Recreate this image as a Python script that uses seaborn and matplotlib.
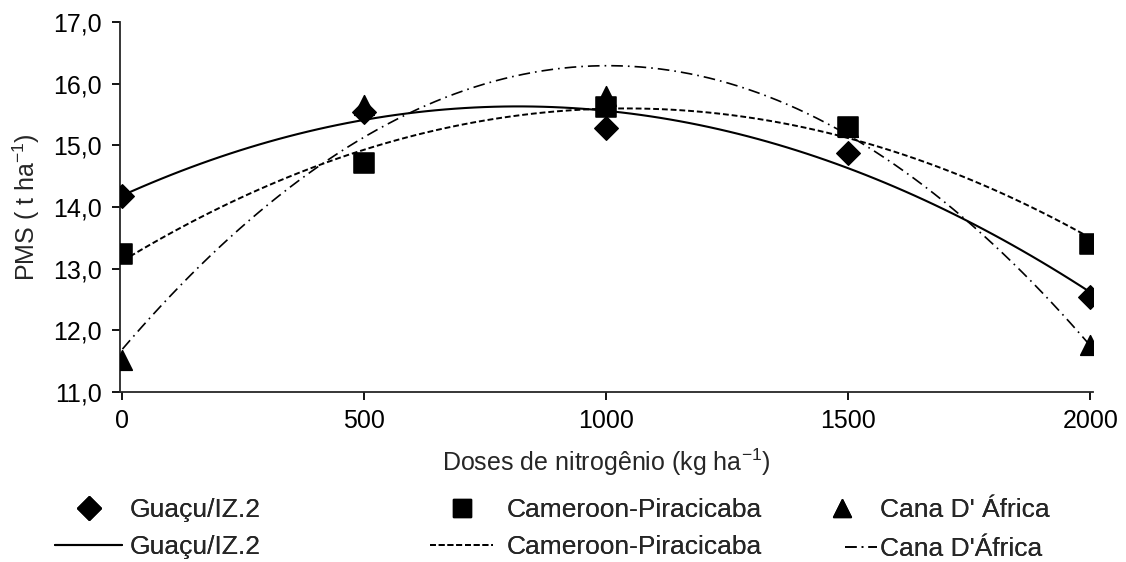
import numpy as np
import pandas as pd
import matplotlib
matplotlib.use("Agg")
import matplotlib.pyplot as plt
import seaborn as sns
from matplotlib.ticker import FuncFormatter
from matplotlib.lines import Line2D

doses = [0, 500, 1000, 1500, 2000]
guacu = [14.17, 15.54, 15.28, 14.87, 12.54]
cameroon = [13.23, 14.71, 15.62, 15.30, 13.40]
cana = [11.52, 15.65, 15.80, 15.30, 11.76]

sns.set_style("ticks")
plt.rcParams['font.family'] = ['Liberation Sans', 'DejaVu Sans']
plt.rcParams['mathtext.fontset'] = 'custom'
plt.rcParams['mathtext.rm'] = 'Liberation Sans'
plt.rcParams['mathtext.it'] = 'Liberation Sans'

fs = 18
lfs = 19
W, H = 1126, 562
fig = plt.figure(figsize=(W / 100, H / 100), dpi=100)
ax = fig.add_axes([0.1066, 0.3025, 0.864, 0.6585])

# curvas ajustadas (regressao quadratica)
sns.regplot(x=doses, y=guacu, order=2, ci=None, scatter=False, ax=ax,
            line_kws=dict(color='black', lw=1.5, ls='-'))
sns.regplot(x=doses, y=cameroon, order=2, ci=None, scatter=False, ax=ax,
            line_kws=dict(color='black', lw=1.4, ls=(0, (3, 1.5))))
sns.regplot(x=doses, y=cana, order=2, ci=None, scatter=False, ax=ax,
            line_kws=dict(color='black', lw=1.2, ls=(0, (7, 3, 1, 3))))
lines = ax.get_lines()

# pontos observados
sns.scatterplot(x=doses, y=cana, marker='^', s=200, color='black', edgecolor='black',
                ax=ax, zorder=3, legend=False)
sns.scatterplot(x=doses, y=cameroon, marker='s', s=205, color='black', edgecolor='black',
                ax=ax, zorder=4, legend=False)
sns.scatterplot(x=doses, y=guacu, marker='D', s=145, color='black', edgecolor='black',
                ax=ax, zorder=5, legend=False)

ax.set_xlim(-5, 2005)
ax.set_ylim(11, 17)
ax.set_xticks(doses)
ax.set_yticks(np.arange(11, 17.1, 1))
ax.yaxis.set_major_formatter(FuncFormatter(lambda v, p: f"{v:.1f}".replace('.', ',')))
ax.tick_params(labelsize=fs, length=6, width=1.3, colors='black')
ax.tick_params(axis='y', pad=7)
ax.tick_params(axis='x', pad=6)
ax.spines['left'].set_linewidth(1.3)
ax.spines['bottom'].set_linewidth(1.3)
sns.despine(ax=ax)
ax.set_xlabel(r'Doses de nitrogênio (kg ha$^{\mathregular{-1}}$)', fontsize=fs, labelpad=10)
ax.set_ylabel(r'PMS ( t ha$^{\mathregular{-1}}$)', fontsize=fs, labelpad=8)

mk = lambda m, s: Line2D([], [], marker=m, ls='none', color='black', markersize=s)


def leg(handles, labels, x, y, hl, pad):
    l = fig.legend(handles, labels, loc='upper left', bbox_to_anchor=(x / W, 1 - y / H),
                   frameon=False, fontsize=lfs, handlelength=hl, handletextpad=pad,
                   labelspacing=0.5, borderpad=0, borderaxespad=0)
    fig.add_artist(l)


leg([mk('D', 12), lines[0]], ['Guaçu/IZ.2', 'Guaçu/IZ.2'], 55, 498, 2.54, 0.3)
leg([mk('s', 13), lines[1]], ['Cameroon-Piracicaba', 'Cameroon-Piracicaba'], 430, 498, 2.39, 0.53)
leg([mk('^', 13)], ["Cana D' África"], 826, 498, 1.2, 0.83)
leg([lines[2]], ["Cana D'África"], 845, 537, 1.21, 0.11)

fig.savefig('out.png', dpi=100)
